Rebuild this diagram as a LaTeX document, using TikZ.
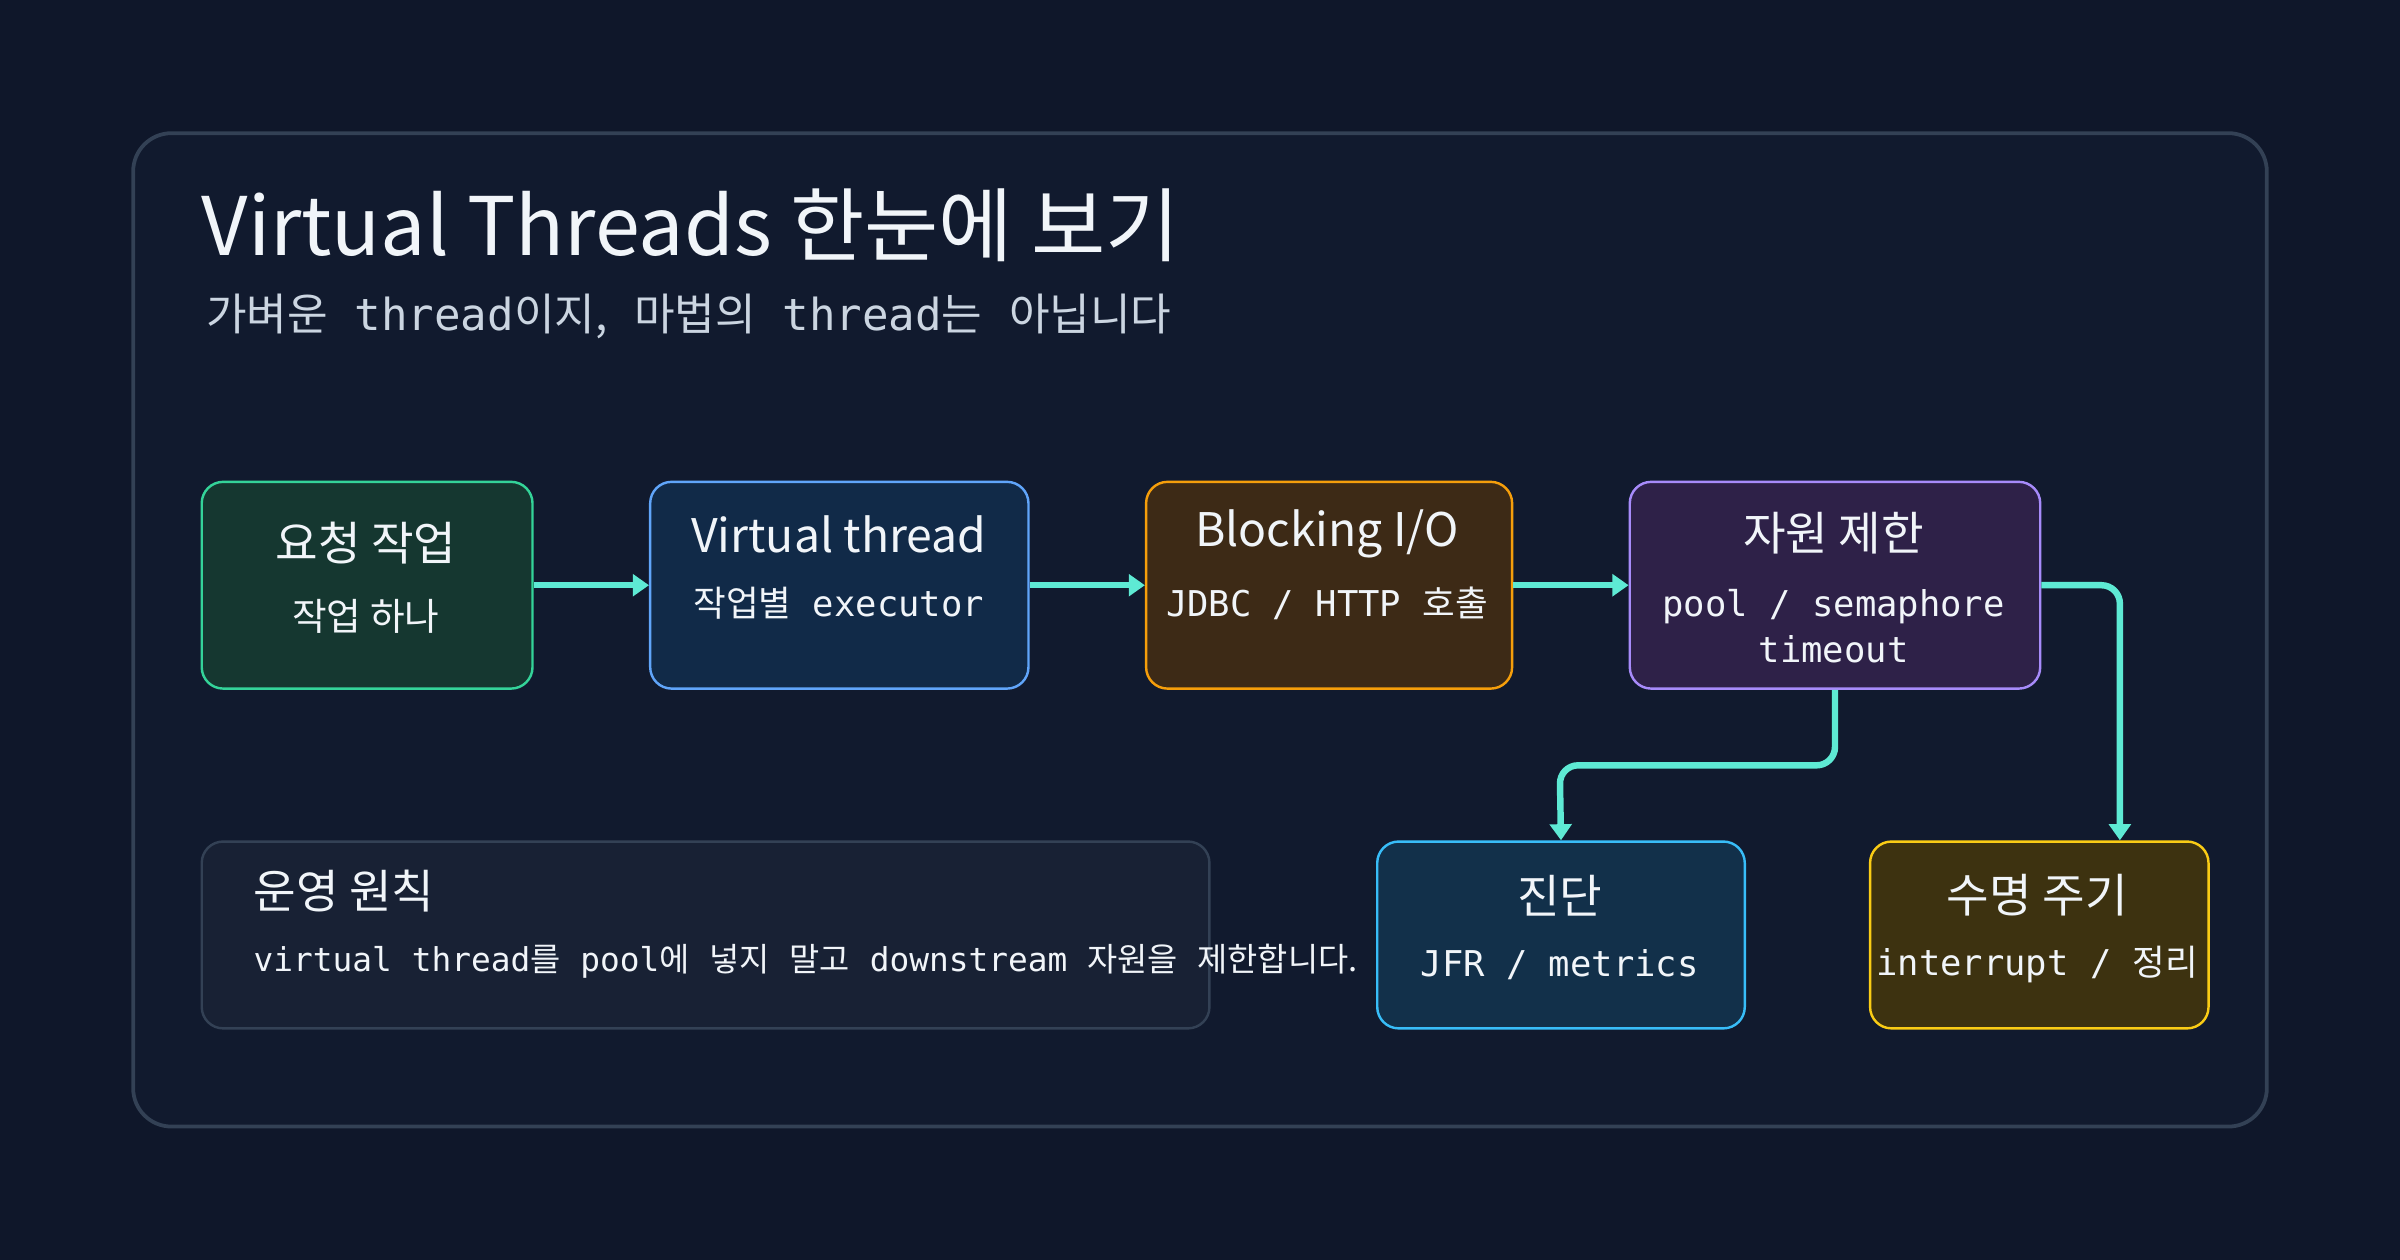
\documentclass[tikz,border=0pt]{standalone}
\usepackage{fontspec}
\setmainfont{Noto Sans CJK KR}
\newfontfamily\kr{Noto Sans CJK KR}
\setmonofont{DejaVu Sans Mono}
\newcommand{\ko}[1]{{\kr #1}}
\usetikzlibrary{positioning, arrows.meta}

\definecolor{bgcol}{HTML}{0F172A}
\definecolor{panelfill}{HTML}{111A2E}
\definecolor{panelline}{HTML}{334155}
\definecolor{flowcol}{HTML}{5EEAD4}
\definecolor{txtcol}{HTML}{F1F5F9}
\definecolor{subcol}{HTML}{CBD5E1}

\tikzset{
  stage/.style={draw, rounded corners=0.14cm, line width=0.45pt, anchor=north west},
  ttl/.style={text=txtcol, font=\fontsize{8.6}{10}\selectfont},
  sub/.style={text=txtcol, font=\ttfamily\fontsize{6.6}{8.6}\selectfont, align=center},
  flow/.style={draw=flowcol, line width=1.2pt, -{Triangle[length=3pt,width=4pt]}, rounded corners=0.12cm},
}

\begin{document}
\begin{tikzpicture}[x=0.01cm, y=-0.01cm]
  \fill[bgcol] (0,0) rectangle (1568,823);
  \useasboundingbox (0,0) rectangle (1568,823);
  \draw[panelline, fill=panelfill, line width=0.7pt, rounded corners=0.25cm] (87,87) rectangle (1481,736);

  % heading
  \node[anchor=base west, inner sep=0, text=txtcol, font=\fontsize{15}{18}\selectfont] (head) at (131,167) {Virtual Threads 한눈에 보기};
  \node[anchor=base west, inner sep=0, text=subcol, font=\ttfamily\fontsize{8.2}{10}\selectfont] (tag) at (134,216) {\ko{가벼운} thread\ko{이지,} \ko{마법의} thread\ko{는} \ko{아닙니다}};

  % stages
  \node[stage, draw={rgb,255:red,52;green,211;blue,153}, fill={rgb,255:red,21;green,55;blue,48}, minimum width=2.16cm, minimum height=1.35cm] (req) at (131,314) {};
  \node[stage, draw={rgb,255:red,96;green,165;blue,250}, fill={rgb,255:red,17;green,42;blue,72}, minimum width=2.47cm, minimum height=1.35cm] (vt) at (424,314) {};
  \node[stage, draw={rgb,255:red,245;green,158;blue,11}, fill={rgb,255:red,61;green,42;blue,22}, minimum width=2.39cm, minimum height=1.35cm] (blk) at (748,314) {};
  \node[stage, draw={rgb,255:red,167;green,139;blue,250}, fill={rgb,255:red,46;green,33;blue,72}, minimum width=2.68cm, minimum height=1.35cm] (lim) at (1064,314) {};
  \node[stage, draw={rgb,255:red,56;green,189;blue,248}, fill={rgb,255:red,18;green,48;blue,74}, minimum width=2.40cm, minimum height=1.22cm] (diag) at (899,549) {};
  \node[stage, draw={rgb,255:red,250;green,204;blue,21}, fill={rgb,255:red,61;green,50;blue,16}, minimum width=2.21cm, minimum height=1.22cm] (life) at (1221,549) {};
  \node[stage, draw=panelline, fill={rgb,255:red,24;green,33;blue,52}, minimum width=6.58cm, minimum height=1.22cm] (rule) at (131,549) {};

  % stage texts
  \node[ttl] (reqT) at (239,355) {요청 작업};
  \node[sub, font=\kr\fontsize{7}{9}\selectfont] (reqS) at (239,403) {작업 하나};
  \node[ttl] (vtT) at (548,349) {Virtual thread};
  \node[sub] (vtS) at (548,394) {\ko{작업별} executor};
  \node[ttl] (blkT) at (867,349) {Blocking I/O};
  \node[sub] (blkS) at (867,394) {JDBC / HTTP \ko{호출}};
  \node[ttl] (limT) at (1198,348) {자원 제한};
  \node[sub] (limS) at (1198,409) {pool / semaphore\\timeout};
  \node[ttl] (diagT) at (1019,585) {진단};
  \node[sub] (diagS) at (1019,630) {JFR / metrics};
  \node[ttl] (lifeT) at (1331,585) {수명 주기};
  \node[sub] (lifeS) at (1331,630) {interrupt / \ko{정리}};
  \node[ttl, anchor=west, inner sep=0] (ruleT) at (165,582) {운영 원칙};
  \node[sub, anchor=west, inner sep=0, font=\ttfamily\fontsize{6.1}{8}\selectfont] (ruleS) at (165,628) {virtual thread\ko{를} pool\ko{에} \ko{넣지} \ko{말고} downstream \ko{자원을} \ko{제한합니다.}};

  % connectors
  \draw[flow] (req.east) -- (vt.west);
  \draw[flow] (vt.east) -- (blk.west);
  \draw[flow] (blk.east) -- (lim.west);
  \draw[flow] (lim.south) |- (1019,500) -- (diag.north);
  \draw[flow] (lim.east) -| (1385,549);
\end{tikzpicture}
\end{document}
